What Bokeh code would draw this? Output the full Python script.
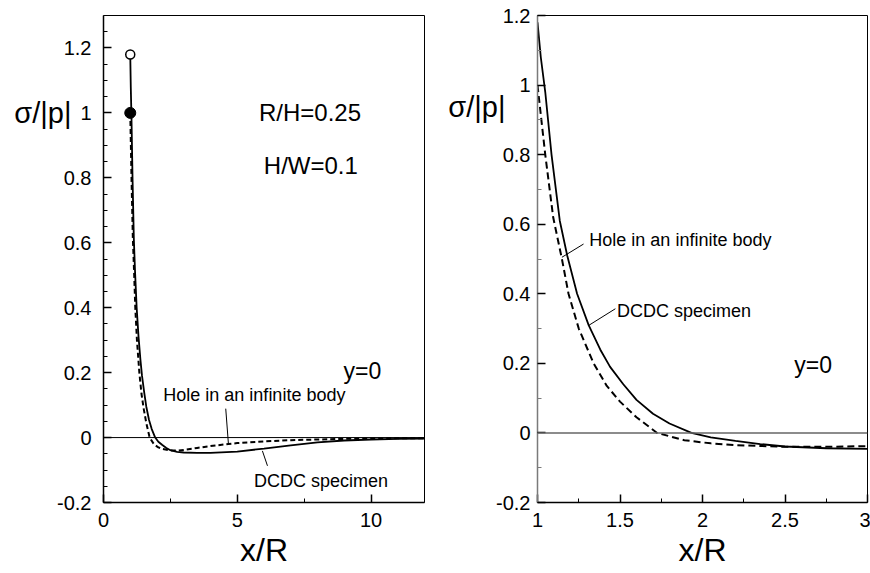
from bokeh.plotting import figure
from bokeh.layouts import row
from bokeh.models import FixedTicker, CustomJSTickFormatter, Label, Span, LinearAxis
from bokeh.embed import file_html
from bokeh.resources import INLINE

# ---- data ----
# DCDC specimen (solid)
x_dcdc = [1.0, 1.02, 1.047, 1.085, 1.135, 1.18, 1.24, 1.31, 1.38, 1.44, 1.52, 1.6, 1.7, 1.8, 1.933,
          2.05, 2.2, 2.35, 2.5, 2.75, 3.0, 3.5, 4.0, 5.0, 6.0, 7.0, 8.0, 9.0, 10.0, 11.0, 12.0]
y_dcdc = [1.18, 1.08, 0.98, 0.80, 0.61, 0.51, 0.40, 0.31, 0.24, 0.19, 0.14, 0.095, 0.055, 0.027, 0.0,
          -0.013, -0.023, -0.032, -0.039, -0.044, -0.046, -0.047, -0.047, -0.043, -0.034, -0.024,
          -0.015, -0.009, -0.006, -0.004, -0.003]
# Hole in an infinite body (dashed)
x_hole = [1.0, 1.047, 1.095, 1.148, 1.188, 1.25, 1.34, 1.42, 1.5, 1.6, 1.725, 1.89, 2.05, 2.2, 2.5,
          2.75, 3.0, 3.5, 4.0, 4.67, 5.0, 6.0, 7.0, 8.0, 9.0, 10.0, 11.0, 12.0]
y_hole = [1.0, 0.8, 0.62, 0.5, 0.4, 0.3, 0.2, 0.135, 0.09, 0.045, 0.0, -0.021, -0.03, -0.035, -0.040,
          -0.040, -0.038, -0.032, -0.026, -0.020, -0.017, -0.012, -0.008, -0.006, -0.004, -0.003,
          -0.002, -0.002]

# ---- ticks ----
left_x_ticks = [0, 5, 10]
left_x_labels = ["0", "5", "10"]
left_x_minor = [2.5, 7.5]
left_y_ticks = [-0.2, 0.0, 0.2, 0.4, 0.6, 0.8, 1.0, 1.2]
left_y_labels = ["-0.2", "0", "0.2", "0.4", "0.6", "0.8", "1", "1.2"]
left_y_minor = [-0.15, -0.1, -0.05, 0.05, 0.1, 0.15, 0.25, 0.3, 0.35, 0.45, 0.5, 0.55, 0.65, 0.7,
                0.75, 0.85, 0.9, 0.95, 1.05, 1.1, 1.15, 1.25]
right_x_ticks = [1.0, 1.5, 2.0, 2.5, 3.0]
right_x_labels = ["1", "1.5", "2", "2.5", "3"]
right_x_minor = [1.25, 1.75, 2.25, 2.75]
right_y_ticks = [-0.2, 0.0, 0.2, 0.4, 0.6, 0.8, 1.0, 1.2]
right_y_labels = ["-0.2", "0", "0.2", "0.4", "0.6", "0.8", "1", "1.2"]
right_y_minor = [-0.1, 0.1, 0.3, 0.5, 0.7, 0.9, 1.1]

y_title = "σ/|p|"
x_title = "x/R"

FONT = "Liberation Sans"

def fmt(tvals, tlabels):
    return CustomJSTickFormatter(args=dict(tvals=tvals, tlabels=tlabels), code="""
        let i = 0, best = 1e9;
        for (let k = 0; k < tvals.length; k++) {
            const d = Math.abs(tvals[k] - tick);
            if (d < best) { best = d; i = k; }
        }
        return tlabels[i];
    """)

def style_axes(p, xt, xl, xm, yt, yl, ym, yaxis_color, xstand, ystand):
    p.grid.visible = False
    p.background_fill_color = "white"
    p.border_fill_color = "white"
    p.outline_line_color = "black"
    p.outline_line_width = 1
    for ax in (p.xaxis[0], p.yaxis[0]):
        ax.major_tick_in = 8
        ax.major_tick_out = 0
        ax.minor_tick_in = 4
        ax.minor_tick_out = 0
        ax.major_tick_line_color = "black"
        ax.major_tick_line_width = 1.5
        ax.minor_tick_line_width = 1
        ax.major_label_text_font = FONT
        ax.major_label_text_font_size = "20px"
        ax.major_label_text_color = "black"
    xa = p.xaxis[0]
    xa.ticker = FixedTicker(ticks=xt, minor_ticks=xm)
    xa.formatter = fmt(xt, xl)
    xa.axis_line_color = "black"
    xa.axis_line_width = 1.5
    xa.minor_tick_line_color = "black"
    xa.major_label_standoff = xstand
    xa.axis_label = x_title
    xa.axis_label_text_font = FONT
    xa.axis_label_text_font_size = "32px"
    xa.axis_label_text_font_style = "normal"
    xa.axis_label_text_color = "black"
    xa.axis_label_standoff = 2
    ya = p.yaxis[0]
    ya.ticker = FixedTicker(ticks=yt, minor_ticks=ym)
    ya.formatter = fmt(yt, yl)
    ya.axis_line_color = yaxis_color
    ya.axis_line_width = 1.5
    ya.minor_tick_line_color = yaxis_color
    ya.major_label_standoff = ystand

def add_ytitle(p, yval, standoff):
    # an extra, line-less axis whose single tick label carries the y title
    ax = LinearAxis(ticker=FixedTicker(ticks=[yval], minor_ticks=[]),
                    formatter=fmt([yval], [y_title]),
                    axis_line_color=None, major_tick_line_color=None, minor_tick_line_color=None,
                    major_label_text_font=FONT, major_label_text_font_size="29px",
                    major_label_text_color="black", major_label_standoff=standoff)
    p.add_layout(ax, "left")

def add_text(p, x, y, text, size):
    p.add_layout(Label(x=x, y=y, text=text, text_font=FONT, text_font_size=size,
                       text_align="center", text_baseline="middle", text_color="black"))

# ---------------- left panel ----------------
p1 = figure(width=440, height=573, x_range=(0, 12), y_range=(-0.2, 1.3),
            output_backend="svg", toolbar_location=None,
            min_border_left=103, min_border_right=16, min_border_top=15, min_border_bottom=71)
style_axes(p1, left_x_ticks, left_x_labels, left_x_minor, left_y_ticks, left_y_labels, left_y_minor,
           "black", 10, 12)
add_ytitle(p1, 1.0, -23)
p1.add_layout(Span(location=0, dimension="width", line_color="black", line_width=1))
p1.line(x_hole, y_hole, line_color="black", line_width=2, line_dash="5 3")
p1.line(x_dcdc, y_dcdc, line_color="black", line_width=1.8)
p1.scatter([x_hole[0]], [y_hole[0]], size=11, marker="circle", fill_color="black", line_color="black")
p1.scatter([x_dcdc[0]], [y_dcdc[0]], size=9, marker="circle", fill_color="white", line_color="black",
           line_width=1.5)
add_text(p1, 7.72, 1.0, "R/H=0.25", "24px")
add_text(p1, 7.75, 0.839, "H/W=0.1", "24px")
add_text(p1, 9.68, 0.206, "y=0", "23px")
add_text(p1, 5.64, 0.130, "Hole in an infinite body", "18px")
add_text(p1, 8.13, -0.135, "DCDC specimen", "18px")
p1.segment(x0=[4.57, 6.13], y0=[0.089, -0.087], x1=[4.67, 5.94], y1=[-0.020, -0.041],
           line_color="black", line_width=1)

# ---------------- right panel ----------------
p2 = figure(width=430, height=573, x_range=(1, 3), y_range=(-0.2, 1.2),
            output_backend="svg", toolbar_location=None,
            min_border_left=97, min_border_right=3, min_border_top=15, min_border_bottom=68)
style_axes(p2, right_x_ticks, right_x_labels, right_x_minor, right_y_ticks, right_y_labels, right_y_minor,
           "#7a7a7a", 10, 7)
add_ytitle(p2, 0.937, -18)
p2.add_layout(Span(location=0, dimension="width", line_color="#666666", line_width=1.5))
p2.line(x_hole, y_hole, line_color="black", line_width=2, line_dash="7 4")
p2.line(x_dcdc, y_dcdc, line_color="black", line_width=1.8)
add_text(p2, 1.866, 0.556, "Hole in an infinite body", "18px")
add_text(p2, 1.888, 0.35, "DCDC specimen", "18px")
add_text(p2, 2.671, 0.194, "y=0", "23px")
p2.segment(x0=[1.279, 1.472], y0=[0.543, 0.357], x1=[1.148, 1.31], y1=[0.505, 0.309],
           line_color="black", line_width=1)

layout = row(p1, p2)
open("out.html", "w").write(file_html(layout, INLINE))
